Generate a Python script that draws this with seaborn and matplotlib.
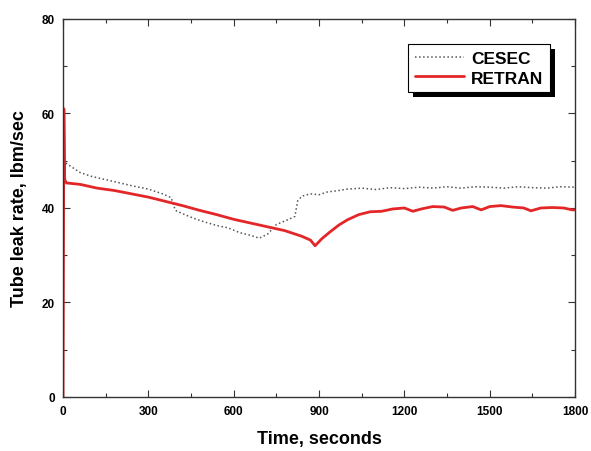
import matplotlib
matplotlib.use("Agg")
import matplotlib.pyplot as plt
import matplotlib.patheffects as pe
import seaborn as sns
import pandas as pd

retran_t = [0, 3, 6, 12, 60, 120, 180, 240, 300, 360, 420, 480, 540, 600, 660, 720, 780, 840, 870, 886,
            910, 940, 970, 1000, 1040, 1080, 1120, 1160, 1200, 1230, 1260, 1300, 1340, 1370, 1400, 1440,
            1470, 1500, 1540, 1580, 1620, 1645, 1680, 1720, 1760, 1790, 1800]
retran_v = [0, 61, 46, 45.3, 45.0, 44.2, 43.7, 43.0, 42.3, 41.4, 40.5, 39.5, 38.6, 37.6, 36.8, 36.0, 35.2,
            34.0, 33.2, 32.0, 33.5, 35.0, 36.4, 37.5, 38.6, 39.2, 39.3, 39.8, 40.0, 39.3, 39.8, 40.3, 40.2,
            39.5, 40.0, 40.3, 39.6, 40.3, 40.5, 40.2, 40.0, 39.4, 40.0, 40.1, 40.0, 39.6, 39.6]

cesec_t = [10, 30, 60, 100, 150, 200, 250, 300, 350, 380, 395, 420, 460, 500, 540, 580, 620, 660, 690,
           720, 750, 790, 815, 825, 840, 870, 900, 930, 970, 1000, 1050, 1100, 1150, 1200, 1250, 1300,
           1350, 1400, 1450, 1500, 1550, 1600, 1650, 1700, 1750, 1800]
cesec_v = [49.5, 48.7, 47.5, 46.7, 46.0, 45.3, 44.6, 44.0, 43.0, 42.2, 39.5, 38.8, 37.8, 37.0, 36.3, 35.8,
           34.8, 34.2, 33.6, 34.5, 36.5, 37.5, 38.2, 41.5, 42.5, 43.0, 42.8, 43.4, 43.7, 44.0, 44.2, 43.9,
           44.3, 44.1, 44.4, 44.2, 44.5, 44.2, 44.5, 44.4, 44.2, 44.5, 44.3, 44.2, 44.5, 44.4]

x_ticks = [0, 300, 600, 900, 1200, 1500, 1800]
y_ticks = [0, 20, 40, 60, 80]

sns.set_style("ticks")
plt.rcParams['font.family'] = ['Liberation Sans', 'DejaVu Sans']
plt.rcParams['text.color'] = 'black'
plt.rcParams['axes.labelcolor'] = 'black'
plt.rcParams['xtick.labelcolor'] = 'black'
plt.rcParams['ytick.labelcolor'] = 'black'

fig = plt.figure(figsize=(5.91, 4.52), dpi=100)
ax = fig.add_axes([0.1066, 0.1195, 0.8664, 0.8363])

df_c = pd.DataFrame({"t": cesec_t, "v": cesec_v})
df_r = pd.DataFrame({"t": retran_t, "v": retran_v})
sns.lineplot(data=df_c, x="t", y="v", ax=ax, color="#555555", lw=1.1, linestyle=":", label="CESEC",
             estimator=None, sort=False)
sns.lineplot(data=df_r, x="t", y="v", ax=ax, color="#e32628", lw=2.0, label="RETRAN",
             estimator=None, sort=False)

ax.set_xlim(0, 1800)
ax.set_ylim(0, 80)
ax.set_xticks(x_ticks)
ax.set_yticks(y_ticks)
ax.set_xticks([150, 450, 750, 1050, 1350, 1650], minor=True)
ax.set_yticks([10, 30, 50, 70], minor=True)
ax.tick_params(which='both', direction='in', top=True, right=True, color='#333333')
ax.tick_params(which='major', length=5, width=0.8, labelsize=8.5, pad=6)
ax.tick_params(which='minor', length=3, width=0.8)
for lab in ax.get_xticklabels() + ax.get_yticklabels():
    lab.set_fontweight('bold')
for s in ax.spines.values():
    s.set_color('#333333')
    s.set_linewidth(1.0)

ax.set_xlabel("Time, seconds", fontsize=13, fontweight='bold', labelpad=9)
ax.set_ylabel("Tube leak rate, lbm/sec", fontsize=13, fontweight='bold', labelpad=10)

leg = ax.legend(loc='upper right', bbox_to_anchor=(0.951, 0.934), borderaxespad=0, frameon=True,
                fancybox=False, shadow=False, fontsize=12.5, handlelength=2.8,
                borderpad=0.4, labelspacing=0.25, handletextpad=0.4)
frame = leg.get_frame()
frame.set_edgecolor('black')
frame.set_linewidth(0.8)
frame.set_alpha(1)
frame.set_path_effects([pe.SimplePatchShadow(offset=(3.5, -3.5), shadow_rgbFace='black', alpha=1.0),
                        pe.Normal()])
for t in leg.get_texts():
    t.set_fontweight('bold')

fig.savefig("out.png", dpi=100)
